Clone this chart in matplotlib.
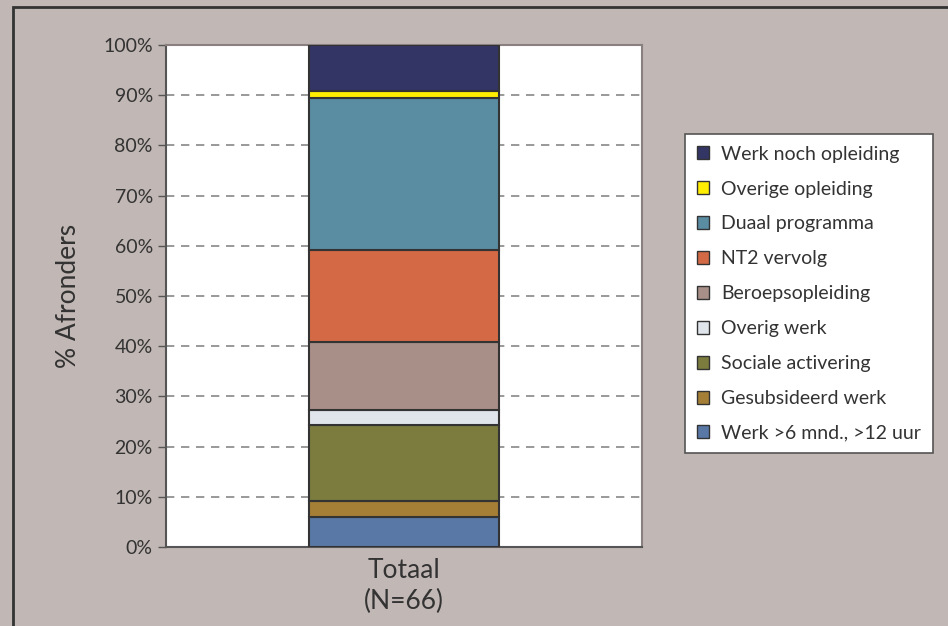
import matplotlib.pyplot as plt
from matplotlib.patches import Rectangle, Patch

plt.rcParams['font.family'] = ['Lato', 'DejaVu Sans']

# aantal afronders per uitstroomcategorie (N=66), van onder naar boven
categories = ['Werk >6 mnd., >12 uur', 'Gesubsideerd werk', 'Sociale activering',
              'Overig werk', 'Beroepsopleiding', 'NT2 vervolg', 'Duaal programma',
              'Overige opleiding', 'Werk noch opleiding']
counts = [4, 2, 10, 2, 9, 12, 20, 1, 6]
colors = ['#5a78a6', '#a67f36', '#7b7c3e', '#dfe5ea', '#a89089', '#d46a45',
          '#5a8ca2', '#ffee00', '#333564']
bar_label = 'Totaal\n(N=66)'
n_total = sum(counts)
shares = [c / n_total * 100 for c in counts]

bg = '#c1b7b4'
fig = plt.figure(figsize=(9.48, 6.26), dpi=100)
fig.patch.set_facecolor(bg)
fig.patches.append(Rectangle((13 / 948, -0.1), 1.1, 1 - 7 / 626 + 0.1,
                             transform=fig.transFigure, fill=False,
                             edgecolor='#333333', linewidth=2))

ax = fig.add_axes([166 / 948, 1 - 547 / 626, (642 - 166) / 948, (547 - 45) / 626])
ax.set_facecolor('white')

bottom = 0
for cat, val, col in zip(categories, shares, colors):
    ax.bar(0, val, width=0.8, bottom=bottom, color=col, edgecolor='#333333',
           linewidth=1.5, label=cat, zorder=3)
    bottom += val

ax.set_xlim(-1.0, 1.0)
ax.set_ylim(0, 100)
ax.set_yticks(range(0, 101, 10))
ax.set_yticklabels([f'{t}%' for t in range(0, 101, 10)], fontsize=14, color='#333333')
ax.set_xticks([0])
ax.set_xticklabels([bar_label], fontsize=19, color='#333333', linespacing=1.3)
ax.tick_params(axis='x', length=0, pad=8)
ax.tick_params(axis='y', length=6, color='#555555', width=1)
for t in range(10, 100, 10):
    ax.axhline(t, color='#888888', linestyle=(0, (5, 4)), linewidth=1.2, zorder=1)
for s in ax.spines.values():
    s.set_color('#8a8080')
    s.set_linewidth(1.5)
ax.spines['left'].set_color('#555555')
ax.spines['bottom'].set_color('#555555')
ax.set_ylabel('% Afronders', fontsize=19, color='#333333', labelpad=16)

handles = [Patch(facecolor=c, edgecolor='#333333', label=l)
           for l, c in zip(categories, colors)][::-1]
leg = fig.legend(handles=handles, loc='upper left',
                 bbox_to_anchor=(685 / 948, 1 - 134 / 626), fontsize=14,
                 frameon=True, fancybox=False, edgecolor='#555555',
                 facecolor='white', framealpha=1,
                 handlelength=0.65, handleheight=0.65, handletextpad=0.6,
                 labelspacing=0.92, borderpad=0.6, borderaxespad=0)
leg.get_frame().set_linewidth(1.2)
for txt in leg.get_texts():
    txt.set_color('#333333')

fig.savefig('out.png', dpi=100, facecolor=bg)
